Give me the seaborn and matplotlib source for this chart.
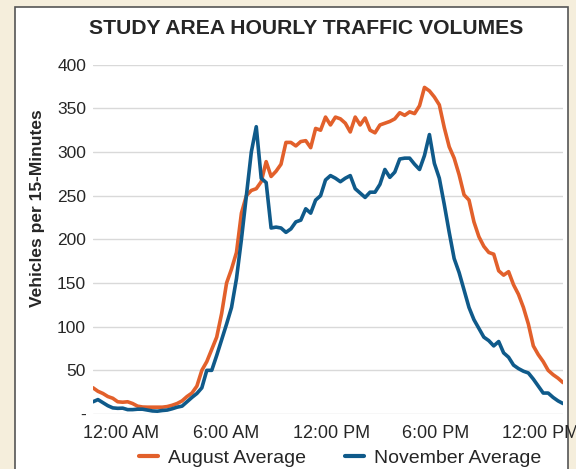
import numpy as np
import pandas as pd
import seaborn as sns
import matplotlib.pyplot as plt
from matplotlib.patches import Rectangle

# 15-minute intervals
august = [30, 26, 23.5, 20, 18, 14, 13.5, 14, 12, 9,
          8, 7.8, 7.8, 7.8, 7.8, 8.5, 10, 12, 15, 20,
          24, 32, 50, 60, 74, 88, 115, 150, 166, 185,
          230, 250, 256, 258, 266, 289, 272, 278, 286, 311,
          311, 307, 312, 313, 305, 327, 325, 340, 331, 340,
          338, 333, 323, 340, 331, 339, 325, 322, 331, 333,
          335, 338, 345, 342, 346, 344, 353, 374, 370, 363,
          354, 328, 306, 293, 274, 251, 245, 220, 203, 192,
          185, 183, 164, 159, 163, 148, 137, 122, 103, 78,
          68, 60, 50, 45, 41, 36]
november = [14, 16.5, 13, 9.5, 7, 6.5, 6.7, 5, 5, 5.5,
            5.5, 4.5, 3.5, 3.2, 4, 4.5, 6, 7.8, 9, 14,
            19, 23.5, 30, 50, 50, 67, 85, 103, 122, 155,
            200, 250, 300, 329, 270, 265, 213, 214, 213, 208,
            212, 220, 222, 235, 230, 245, 250, 268, 273, 270,
            266, 270, 273, 258, 253, 248, 254, 254, 263, 280,
            271, 277, 292, 293, 293, 286, 280, 296, 320, 287,
            270, 240, 208, 178, 162, 142, 122, 108, 98, 88,
            84, 78, 83, 70, 65, 56, 52, 49, 47, 40,
            32, 24, 24, 19, 15, 12]

series_names = ['August Average', 'November Average']
x_tick_pos = [5.7, 26.9, 48.2, 69.2, 90.5]
x_tick_labels = ['12:00 AM', '6:00 AM', '12:00 PM', '6:00 PM', '12:00 PM']
y_ticks = [0, 50, 100, 150, 200, 250, 300, 350, 400]
y_tick_labels = ['-', '50', '100', '150', '200', '250', '300', '350', '400']

df = pd.DataFrame({
    'interval': list(range(len(august))) + list(range(len(november))),
    'volume': august + november,
    'series': [series_names[0]] * len(august) + [series_names[1]] * len(november),
})

sns.set_style('white')
plt.rcParams['font.family'] = ['Liberation Sans', 'DejaVu Sans']

fig = plt.figure(figsize=(5.76, 4.69), dpi=100, facecolor='#F5EEDC')
# white chart panel on the beige page
panel = Rectangle((15 / 576, -0.01), (568 - 15) / 576, 1.01 - 7 / 469,
                  transform=fig.transFigure, facecolor='white',
                  edgecolor='#555555', linewidth=1.2, zorder=-10)
fig.add_artist(panel)

ax = fig.add_axes([93 / 576, 55 / 469, 470 / 576, (414 - 64.7) / 469])
ax.set_facecolor('none')
ax.set_zorder(5)

sns.lineplot(data=df, x='interval', y='volume', hue='series', ax=ax,
             palette=['#E2602B', '#0F5A8A'], linewidth=2.6, legend=False)

ax.set_xlim(0, len(august) - 1)
ax.set_ylim(0, 400)
ax.set_yticks(y_ticks)
ax.set_yticklabels(y_tick_labels)
ax.set_xticks(x_tick_pos)
ax.set_xticklabels(x_tick_labels)
ax.tick_params(axis='y', length=0, pad=5, labelsize=12.5)
ax.tick_params(axis='x', length=0, pad=8, labelsize=13)
ax.yaxis.grid(True, color='#D9D9D9', linewidth=1)
ax.set_axisbelow(True)
for s in ax.spines.values():
    s.set_visible(False)
ax.set_xlabel('')
ax.set_ylabel('')

fig.text(306 / 576, 1 - 28 / 469, 'STUDY AREA HOURLY TRAFFIC VOLUMES',
         ha='center', va='center', fontsize=15.2, fontweight='bold')
fig.text(38 / 576, 1 - 208 / 469, 'Vehicles per 15-Minutes', rotation=90,
         ha='center', va='center', fontsize=12.5, fontweight='bold')

handles = [plt.Line2D([], [], color=c, linewidth=3) for c in ['#E2602B', '#0F5A8A']]
fig.legend(handles, series_names, loc='center', bbox_to_anchor=(340 / 576, 1 - 458 / 469),
           ncol=2, frameon=False, fontsize=14, handlelength=1.0, handletextpad=0.5,
           columnspacing=2.0, borderpad=0)

plt.savefig('out.png', dpi=100, facecolor=fig.get_facecolor())
